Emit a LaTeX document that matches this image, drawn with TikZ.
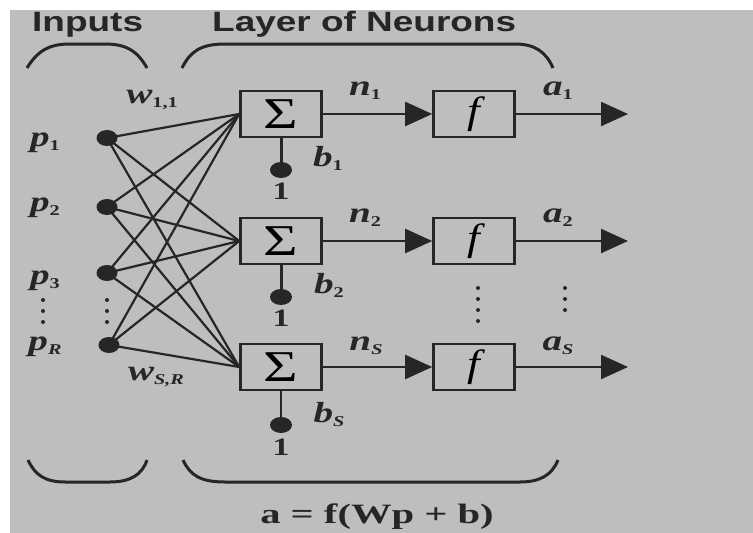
\documentclass[tikz,border=0pt]{standalone}
\usepackage{graphicx}
\usepackage{fontspec}
\setmainfont{Liberation Serif}
\newfontfamily\serf{Liberation Serif}
\newfontfamily\ttlfont{Liberation Sans}
\usetikzlibrary{arrows.meta,shapes.geometric}
\definecolor{bg}{RGB}{190,190,190}
\definecolor{ink}{RGB}{38,38,38}
\newcommand{\hs}[2][1.35]{\scalebox{#1}[1]{#2}}
\newcommand{\lab}[2]{\hs{{\serf\bfseries\itshape #1}\raisebox{-4pt}{\fontsize{15}{15}\selectfont\serf\bfseries #2}}}
\begin{document}
\begin{tikzpicture}[x=1pt,y=-1pt,
  box/.style={draw=ink,line width=2.6pt,fill=bg,minimum width=81pt,minimum height=46pt,inner sep=0pt},
  indot/.style={ellipse,fill=ink,minimum width=21pt,minimum height=16pt,inner sep=0pt},
  bdot/.style={ellipse,fill=ink,minimum width=22pt,minimum height=16pt,inner sep=0pt},
  wire/.style={ink,line width=2.2pt},
  arr/.style={ink,line width=2.4pt,-{Triangle[length=27pt,width=24pt]}},
  brk/.style={ink,line width=3pt},
  lbl/.style={font=\fontsize{29}{29}\selectfont,text=ink,inner sep=0pt},
  one/.style={font=\fontsize{25}{25}\selectfont\serf\bfseries,text=ink,inner sep=0pt},
  ttl/.style={font=\fontsize{28}{28}\selectfont\ttlfont\bfseries,text=ink,inner sep=0pt},
  vdot/.style={circle,fill=ink,minimum size=4pt,inner sep=0pt}
]
\useasboundingbox (0,0) rectangle (753,533);
\fill[white] (0,0) rectangle (753,533);
\fill[bg] (10,10) rectangle (753,533);

% titles
\node[ttl,anchor=base west] (tin) at (32,31) {\hs[1.32]{Inputs}};
\node[ttl,anchor=base west] (tly) at (212,31) {\hs[1.32]{Layer of Neurons}};

% brackets
\draw[brk] (27,68) .. controls (38,50) and (50,44) .. (70,44) -- (105,44) .. controls (125,44) and (137,50) .. (147,68);
\draw[brk] (182,68) .. controls (190,52) and (200,44) .. (225,44) -- (515,44) .. controls (535,44) and (546,52) .. (553,68);
\draw[brk] (28,460) .. controls (35,475) and (45,482) .. (65,482) -- (110,482) .. controls (130,482) and (142,475) .. (147,460);
\draw[brk] (183,460) .. controls (190,475) and (200,482) .. (225,482) -- (520,482) .. controls (540,482) and (552,475) .. (558,460);

% boxes
\foreach \i/\y in {1/114,2/241,3/367}{
  \node[box] (s\i) at (281,\y) {\fontsize{44}{44}\selectfont\serf\hs[1.35]{Σ}};
  \node[box] (f\i) at (474,\y) {\fontsize{38}{38}\selectfont\serf\itshape\hs[1.2]{f}};
  \coordinate (o\i) at (628,\y);
}

% inputs
\node[indot] (i1) at (107,138) {};
\node[indot] (i2) at (107,207) {};
\node[indot] (i3) at (107,273) {};
\node[indot] (i4) at (109,345) {};
\node[lbl] (p1) at (45,143) {\lab{p}{1}};
\node[lbl] (p2) at (45,208) {\lab{p}{2}};
\node[lbl] (p3) at (45,281) {\lab{p}{3}};
\node[lbl] (p4) at (45,347) {\lab{p}{\itshape R}};

% vertical dots
\foreach \x in {43,107}{
  \node[vdot] at (\x,300) {};
  \node[vdot] at (\x,311) {};
  \node[vdot] at (\x,322) {};
}
\foreach \yy in {288,299,310,321}{ \node[vdot] at (478,\yy) {}; }
\foreach \yy in {288,299,310}{ \node[vdot] at (565,\yy) {}; }

% weights
\foreach \a in {1,2,3,4}{
  \foreach \b in {1,2,3}{
    \draw[wire] (i\a.center) -- (s\b.west);
  }
}
\node[lbl] (w11) at (152,100) {\lab{w}{1,1}};
\node[lbl] (wsr) at (156,377) {\lab{w}{\itshape S,R}};

% bias
\node[bdot] (c1) at (281,170) {};
\node[bdot] (c2) at (281,297) {};
\node[bdot] (c3) at (281,425) {};
\draw[wire,line width=3pt] (s1.south) -- (c1.center);
\draw[wire,line width=3pt] (s2.south) -- (c2.center);
\draw[wire,line width=2pt] (s3.south) -- (c3.center);
\node[one] (u1) at (281,191) {\hs{1}};
\node[one] (u2) at (281,318) {\hs{1}};
\node[one] (u3) at (281,447) {\hs{1}};
\node[lbl] (b1) at (328,158) {\lab{b}{1}};
\node[lbl] (b2) at (329,285) {\lab{b}{2}};
\node[lbl] (b3) at (329,415) {\lab{b}{\itshape S}};

% signal arrows
\foreach \i in {1,2,3}{
  \draw[arr] (s\i.east) -- (f\i.west);
  \draw[arr] (f\i.east) -- (o\i);
}
\node[lbl] (n1) at (365,91) {\lab{n}{1}};
\node[lbl] (n2) at (365,218) {\lab{n}{2}};
\node[lbl] (n3) at (366,346) {\lab{n}{\itshape S}};
\node[lbl] (a1) at (558,91) {\lab{a}{1}};
\node[lbl] (a2) at (558,218) {\lab{a}{2}};
\node[lbl] (a3) at (558,346) {\lab{a}{\itshape S}};

% formula
\node[font=\fontsize{28}{28}\selectfont\serf\bfseries,text=ink,inner sep=0pt] (eq) at (377,517) {\hs[1.45]{a = f(Wp + b)}};
\end{tikzpicture}
\end{document}
